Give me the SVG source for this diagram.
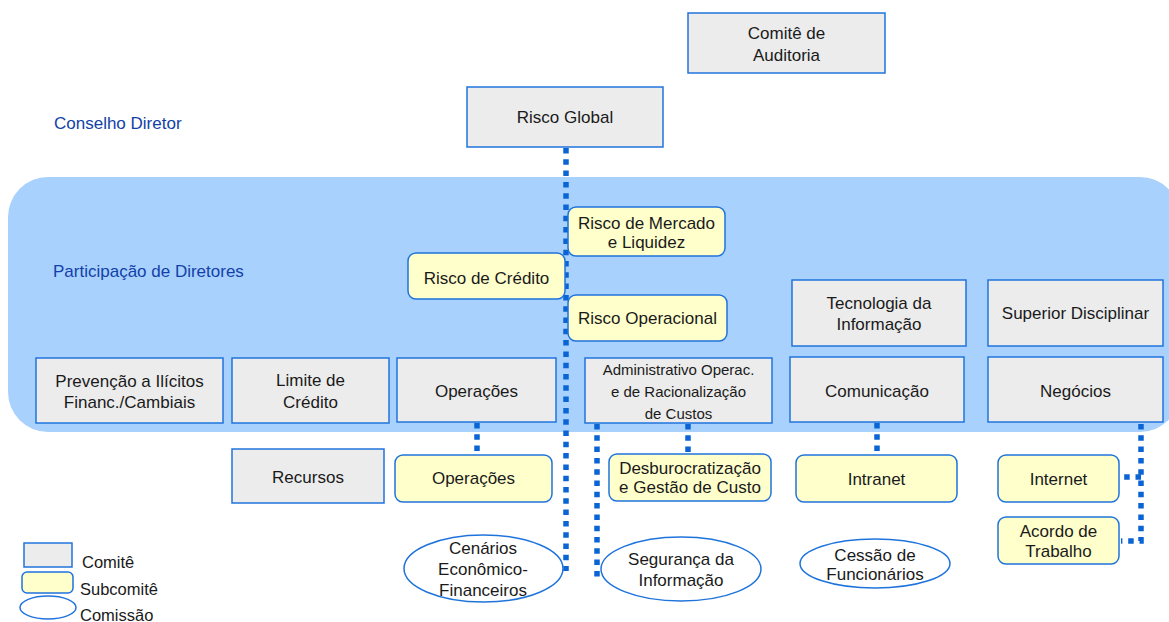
<svg xmlns="http://www.w3.org/2000/svg" width="1169" height="622" viewBox="0 0 1169 622">
<style>
text{font-family:"Liberation Sans",Arial,sans-serif;font-size:17px;fill:#1a1a1a;text-anchor:middle}
.lbl{fill:#1241a8;text-anchor:start}
.leg{font-size:16.5px;text-anchor:start}
.sm{font-size:15px}
.com{fill:#ececec;stroke:#1f74dc;stroke-width:1.5}
.sub{fill:#ffffcc;stroke:#1f74dc;stroke-width:1.5}
.cms{fill:#ffffff;stroke:#1f74dc;stroke-width:1.5}
.dot{fill:none;stroke:#0a64d4;stroke-width:5.5;stroke-dasharray:5.5 5.8}
</style>
<rect x="0" y="0" width="1169" height="622" fill="#ffffff"/>
<rect id="band" x="8" y="177" width="1172" height="255" rx="40" ry="40" fill="#a9d1fd"/>
<text class="lbl" x="54" y="129">Conselho Diretor</text>
<text class="lbl" x="53" y="277">Participação de Diretores</text>

<g id="connectors">
<line class="dot" x1="566" y1="148" x2="566" y2="571"/>
<line class="dot" x1="597" y1="424" x2="597" y2="578"/>
<line class="dot" x1="477" y1="423" x2="477" y2="455"/>
<line class="dot" x1="688" y1="424" x2="688" y2="454"/>
<line class="dot" x1="877" y1="423" x2="877" y2="455"/>
<polyline class="dot" points="1141,424 1141,541 1121,541"/>
<line class="dot" x1="1141" y1="477" x2="1121" y2="477"/>
</g>

<g id="comite-auditoria"><rect class="com" x="688" y="13" width="197" height="60"/><text x="786.5" y="39">Comitê de</text><text x="786.5" y="61">Auditoria</text></g>
<g id="risco-global"><rect class="com" x="467" y="87" width="196" height="60"/><text x="565" y="123">Risco Global</text></g>

<g id="risco-mercado"><rect class="sub" x="568" y="207" width="157" height="49" rx="8"/><text x="646.5" y="229">Risco de Mercado</text><text x="646.5" y="248">e Liquidez</text></g>
<g id="risco-credito"><rect class="sub" x="408" y="253" width="157" height="46" rx="8"/><text x="486.5" y="284">Risco de Crédito</text></g>
<g id="risco-operacional"><rect class="sub" x="568" y="295" width="159" height="46" rx="8"/><text x="647.5" y="324">Risco Operacional</text></g>

<g id="tecnologia"><rect class="com" x="792" y="280" width="174" height="66"/><text x="879" y="309">Tecnologia da</text><text x="879" y="330">Informação</text></g>
<g id="superior-disciplinar"><rect class="com" x="988" y="280" width="175" height="66"/><text x="1075.5" y="319">Superior Disciplinar</text></g>

<g id="prevencao"><rect class="com" x="36" y="358" width="187" height="65"/><text x="129.5" y="387">Prevenção a Ilícitos</text><text x="129.5" y="408">Financ./Cambiais</text></g>
<g id="limite-credito"><rect class="com" x="232" y="358" width="157" height="65"/><text x="310.5" y="386">Limite de</text><text x="310.5" y="408">Crédito</text></g>
<g id="operacoes"><rect class="com" x="397" y="358" width="159" height="64"/><text x="476.5" y="397">Operações</text></g>
<g id="administrativo"><rect class="com" x="585" y="358" width="187" height="65"/><text class="sm" x="678.5" y="375">Administrativo Operac.</text><text class="sm" x="678.5" y="397">e de Racionalização</text><text class="sm" x="678.5" y="419">de Custos</text></g>
<g id="comunicacao"><rect class="com" x="790" y="357" width="174" height="65"/><text x="877" y="397">Comunicação</text></g>
<g id="negocios"><rect class="com" x="988" y="357" width="175" height="65"/><text x="1075.5" y="397">Negócios</text></g>

<g id="recursos"><rect class="com" x="232" y="449" width="152" height="54"/><text x="308" y="483">Recursos</text></g>
<g id="operacoes-sub"><rect class="sub" x="395" y="455" width="157" height="47" rx="8"/><text x="473.5" y="484">Operações</text></g>
<g id="desburocratizacao"><rect class="sub" x="609" y="454" width="162" height="47" rx="8"/><text x="690" y="474">Desburocratização</text><text x="690" y="493">e Gestão de Custo</text></g>
<g id="intranet"><rect class="sub" x="796" y="455" width="161" height="47" rx="8"/><text x="876.5" y="485">Intranet</text></g>
<g id="internet"><rect class="sub" x="998" y="455" width="121" height="47" rx="8"/><text x="1058.5" y="485">Internet</text></g>
<g id="acordo"><rect class="sub" x="998" y="517" width="121" height="47" rx="8"/><text x="1058.5" y="537">Acordo de</text><text x="1058.5" y="557">Trabalho</text></g>

<g id="cenarios"><ellipse class="cms" cx="483.5" cy="568.5" rx="79.5" ry="33.5"/><text x="483" y="554">Cenários</text><text x="483" y="575">Econômico-</text><text x="483" y="596">Financeiros</text></g>
<g id="seguranca"><ellipse class="cms" cx="681" cy="569" rx="80" ry="32"/><text x="681" y="565">Segurança da</text><text x="681" y="586">Informação</text></g>
<g id="cessao"><ellipse class="cms" cx="875" cy="563.5" rx="75" ry="24.5"/><text x="875" y="561">Cessão de</text><text x="875" y="580">Funcionários</text></g>

<g id="legend">
<rect class="com" x="24" y="543" width="48" height="24"/>
<rect class="sub" x="22" y="572" width="51" height="21" rx="5"/>
<ellipse class="cms" cx="48" cy="607.5" rx="28" ry="11.5"/>
<text class="leg" x="82" y="568">Comitê</text>
<text class="leg" x="80" y="595">Subcomitê</text>
<text class="leg" x="80" y="621">Comissão</text>
</g>
</svg>
